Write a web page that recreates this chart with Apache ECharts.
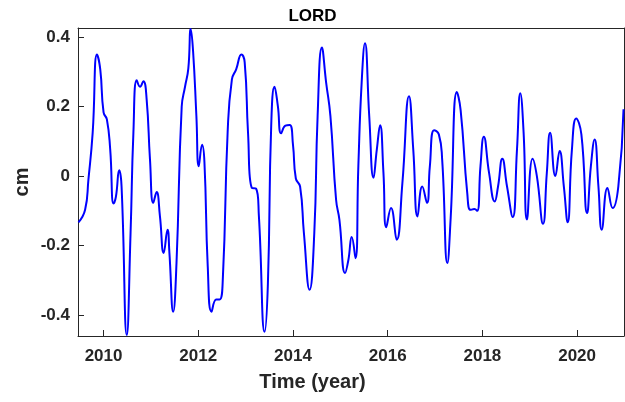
<!DOCTYPE html>
<html>
<head>
<meta charset="utf-8">
<script src="https://cdn.jsdelivr.net/npm/echarts@6/dist/echarts.min.js"></script>
<style>html,body{margin:0;padding:0;background:#fff}</style>
</head>
<body>
<div id="main" style="width:625px;height:402px"></div>
<script>
// time (decimal year) and LORD signal (cm)
var years = [2009.47,2009.61,2009.68,2009.77,2009.86,2009.93,2010.0,2010.07,2010.14,2010.21,2010.26,2010.33,2010.38,2010.49,2010.57,2010.63,2010.70,2010.77,2010.84,2010.91,2010.98,2011.05,2011.12,2011.19,2011.27,2011.35,2011.39,2011.47,2011.54,2011.65,2011.72,2011.79,2011.84,2011.89,2011.96,2012.01,2012.08,2012.13,2012.20,2012.28,2012.38,2012.45,2012.52,2012.62,2012.71,2012.80,2012.91,2012.98,2013.05,2013.13,2013.22,2013.28,2013.40,2013.47,2013.54,2013.61,2013.68,2013.75,2013.84,2013.93,2014.0,2014.06,2014.15,2014.23,2014.35,2014.45,2014.52,2014.61,2014.70,2014.79,2014.91,2014.98,2015.10,2015.17,2015.24,2015.32,2015.38,2015.45,2015.52,2015.61,2015.70,2015.77,2015.84,2015.91,2015.97,2016.07,2016.19,2016.31,2016.45,2016.54,2016.63,2016.73,2016.83,2016.89,2016.98,2017.08,2017.15,2017.26,2017.33,2017.46,2017.54,2017.68,2017.75,2017.83,2017.89,2017.96,2018.03,2018.14,2018.26,2018.33,2018.42,2018.52,2018.64,2018.73,2018.80,2018.87,2018.94,2019.06,2019.15,2019.28,2019.36,2019.43,2019.54,2019.63,2019.72,2019.80,2019.89,2019.98,2020.09,2020.21,2020.29,2020.37,2020.45,2020.52,2020.64,2020.75,2020.87,2020.98];
var lord = [-0.133,-0.097,-0.01,0.125,0.35,0.307,0.183,0.163,0.077,-0.079,-0.06,0.017,-0.03,-0.457,-0.163,0.125,0.276,0.257,0.273,0.22,0.048,-0.077,-0.046,-0.115,-0.221,-0.154,-0.22,-0.39,-0.25,0.2,0.257,0.31,0.423,0.36,0.173,0.028,0.09,0.04,-0.26,-0.39,-0.355,-0.355,-0.29,0.126,0.278,0.307,0.35,0.327,0.126,-0.034,-0.036,-0.115,-0.448,-0.31,0.145,0.257,0.202,0.123,0.145,0.147,0.09,-0.007,-0.03,-0.163,-0.327,-0.163,0.173,0.37,0.269,0.173,-0.068,-0.125,-0.279,-0.241,-0.175,-0.236,0.028,0.269,0.382,0.173,-0.005,0.076,0.146,0.01,-0.147,-0.092,-0.183,-0.02,0.23,0.076,-0.116,-0.03,-0.077,0.028,0.132,0.12,0.048,-0.25,-0.12,0.242,0.19,-0.049,-0.097,-0.095,-0.1,0.03,0.113,0.01,-0.073,-0.03,0.05,-0.03,-0.118,0.076,0.238,0.125,-0.125,0.05,0,-0.137,0.009,0.125,0,0.072,-0.03,-0.133,0.076,0.166,0.12,-0.106,0.028,0.105,-0.03,-0.154,-0.034,-0.092,-0.03,0.192];
var xTicks = [2010, 2012, 2014, 2016, 2018, 2020];
var yTicks = [-0.4, -0.2, 0, 0.2, 0.4];

var chart = echarts.init(document.getElementById('main'));
var lbl = {fontFamily: 'Arial, Liberation Sans', fontWeight: 'bold', fontSize: 17, color: '#262626'};
function xAx(pos, labels) {
  return {type: 'value', position: pos, min: 2009.46, max: 2020.99,
    axisLine: {show: true, onZero: false, lineStyle: {color: '#262626', width: 1}},
    axisTick: {show: labels, inside: true, length: 6, customValues: xTicks, lineStyle: {color: '#262626', width: 1}},
    axisLabel: Object.assign({show: labels, margin: 12, customValues: xTicks,
      formatter: function (v) { return String(v); }}, lbl),
    splitLine: {show: false}};
}
function yAx(pos, labels) {
  return {type: 'value', position: pos, min: -0.46, max: 0.426,
    axisLine: {show: true, onZero: false, lineStyle: {color: '#262626', width: 1}},
    axisTick: {show: labels, inside: true, length: 6, customValues: yTicks, lineStyle: {color: '#262626', width: 1}},
    axisLabel: Object.assign({show: labels, margin: 8, customValues: yTicks,
      formatter: function (v) { return String(Math.round(v * 10) / 10); }}, lbl),
    splitLine: {show: false}};
}
chart.setOption({
  animation: false,
  title: {text: 'LORD', left: 'center', top: 3,
    textStyle: {fontFamily: 'Arial, Liberation Sans', fontWeight: 'bold', fontSize: 17, color: '#000'}},
  grid: {left: 78, right: 1, top: 28, bottom: 66},
  xAxis: [xAx('bottom', true), xAx('top', false)],
  yAxis: [yAx('left', true), yAx('right', false)],
  graphic: [
    {type: 'text', left: 'center', top: 372, style: {text: 'Time (year)', font: 'bold 20px Arial, Liberation Sans', fill: '#262626'}},
    {type: 'text', x: 22, y: 182, rotation: Math.PI / 2, style: {text: 'cm', font: 'bold 20px Arial, Liberation Sans', fill: '#262626', align: 'center', verticalAlign: 'middle'}}
  ],
  series: [{
    type: 'line', smooth: 0.5, symbol: 'none',
    data: years.map(function (y, i) { return [y, lord[i]]; }),
    lineStyle: {color: '#0000ff', width: 2}
  }]
});
</script>
</body>
</html>
